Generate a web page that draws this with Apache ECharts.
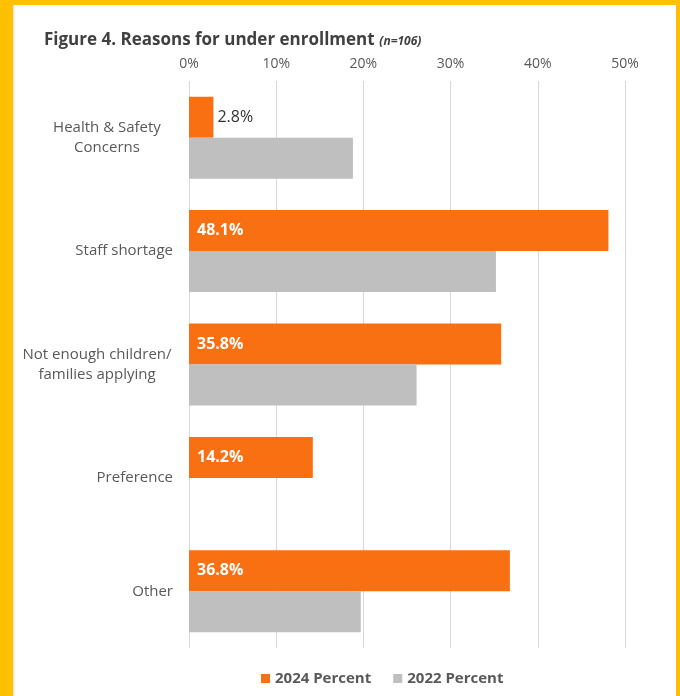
<!DOCTYPE html>
<html>
<head>
<meta charset="utf-8">
<script src="https://cdn.jsdelivr.net/npm/echarts@6/dist/echarts.min.js"></script>
<style>
  html, body { margin: 0; padding: 0; width: 680px; height: 696px; background: #FFC000; overflow: hidden; }
  #panel { position: absolute; left: 13px; top: 5px; width: 663px; height: 691px; background: #ffffff;
           box-shadow: inset 3px 0 3px -2px #d8d8d8; }
  #chart { width: 663px; height: 691px; }
</style>
</head>
<body>
<div id="panel"><div id="chart"></div></div>
<script>
// Reasons for under enrollment, 2024 vs 2022 (percent of respondents)
const categories = [
  'Health & Safety Concerns',
  'Staff shortage',
  'Not enough children/ families applying',
  'Preference',
  'Other'
];
const values2024 = [2.8, 48.1, 35.8, 14.2, 36.8];
const values2022 = [18.8, 35.2, 26.1, 0, 19.7];
const seriesNames = ['2024 Percent', '2022 Percent'];
const axisTicks = [0, 10, 20, 30, 40, 50];

// wrapped category labels, each line centred inside a fixed-width block
const labelLines = {
  'Health & Safety Concerns': { lines: ['Health & Safety', 'Concerns'], w: 132 },
  'Not enough children/ families applying': { lines: ['Not enough children/', 'families applying'], w: 152 }
};

const chart = echarts.init(document.getElementById('chart'), null, { renderer: 'canvas' });

const FONT = '"Open Sans", "Noto Sans", sans-serif';

chart.setOption({
  animation: false,
  textStyle: { fontFamily: FONT },
  title: {
    text: '{main|Figure 4. Reasons for under enrollment} {n|(n=106)}',
    left: 26,
    top: 21,
    textStyle: {
      rich: {
        main: { fontFamily: FONT, fontSize: 17, fontWeight: 'bold', color: '#404040' },
        n: { fontFamily: FONT, fontSize: 12, fontWeight: 'bold', fontStyle: 'italic', color: '#404040', padding: [3, 0, 0, 0] }
      }
    }
  },
  legend: {
    left: 243,
    top: 661,
    itemWidth: 9,
    itemHeight: 9,
    itemGap: 22,
    icon: 'rect',
    textStyle: { fontFamily: FONT, fontSize: 15, fontWeight: 'bold', color: '#595959' },
    data: seriesNames
  },
  grid: { left: 176, right: 51, top: 76, bottom: 48 },
  xAxis: {
    type: 'value',
    position: 'top',
    min: axisTicks[0],
    max: axisTicks[axisTicks.length - 1],
    interval: 10,
    axisLine: { show: false },
    axisTick: { show: false },
    axisLabel: {
      margin: 10,
      fontFamily: FONT,
      fontSize: 14,
      color: '#595959',
      formatter: v => v + '%'
    },
    splitLine: { lineStyle: { color: '#d9d9d9', width: 1 } }
  },
  yAxis: {
    type: 'category',
    inverse: true,
    data: categories,
    axisLine: { show: false },
    axisTick: { show: false },
    axisLabel: {
      margin: 16,
      fontFamily: FONT,
      fontSize: 15,
      color: '#595959',
      lineHeight: 20,
      formatter: function (v) {
        const info = labelLines[v];
        if (info) {
          return info.lines.map(l => '{w' + info.w + '|' + l + '}').join('\n');
        }
        return v;
      },
      rich: {
        w132: { width: 132, align: 'center', fontFamily: FONT, fontSize: 15, color: '#595959', lineHeight: 20 },
        w152: { width: 152, align: 'center', fontFamily: FONT, fontSize: 15, color: '#595959', lineHeight: 20 }
      }
    }
  },
  series: [
    {
      name: seriesNames[0],
      type: 'bar',
      data: values2024.map((v, i) => {
        if (v < 5) {
          return {
            value: v,
            label: { position: 'right', distance: 4, color: '#333333', fontWeight: 'normal' }
          };
        }
        return v;
      }),
      barWidth: 41,
      barGap: '0%',
      itemStyle: { color: '#F97012' },
      label: {
        show: true,
        position: 'insideLeft',
        distance: 8,
        fontFamily: FONT,
        fontSize: 16,
        fontWeight: 'bold',
        color: '#ffffff',
        formatter: p => p.value.toFixed(1) + '%'
      }
    },
    {
      name: seriesNames[1],
      type: 'bar',
      data: values2022,
      barWidth: 41,
      barGap: '0%',
      itemStyle: { color: '#BFBFBF' }
    }
  ]
});
</script>
</body>
</html>
